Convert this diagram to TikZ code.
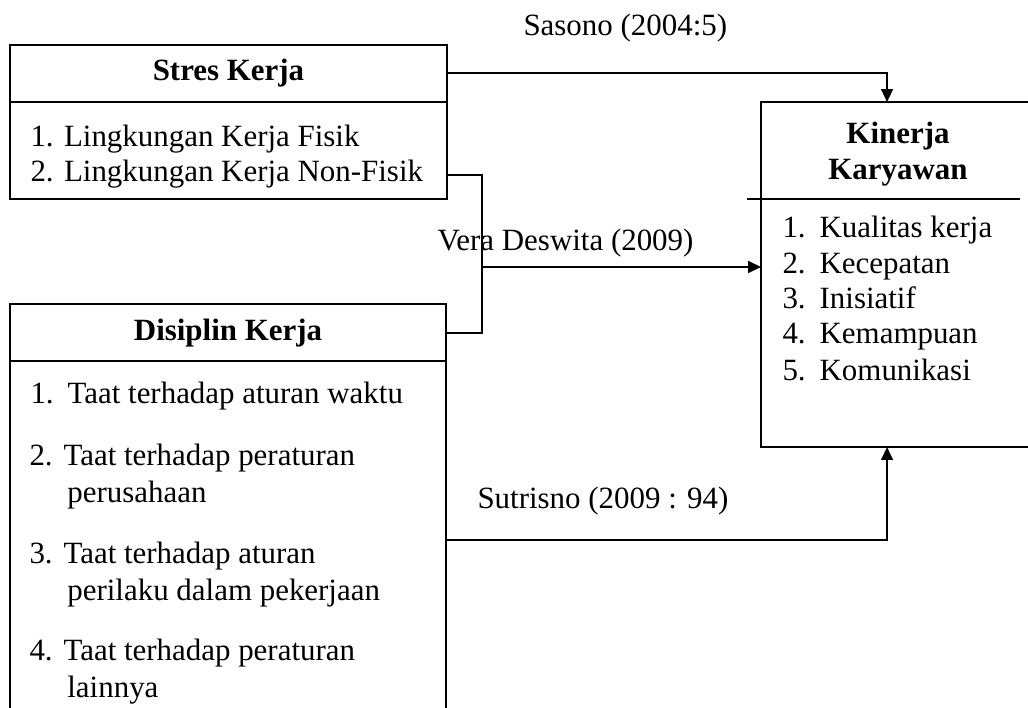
\documentclass[tikz,border=0pt]{standalone}
\usepackage{fontspec}
\setmainfont{Liberation Serif}
\usetikzlibrary{positioning,arrows.meta}
\newcommand\pxl{0.388pt}

\begin{document}
\begin{tikzpicture}
 [x=\pxl, y=-\pxl,
% Box style
    box/.style={rectangle,draw,line width=0.7pt,inner sep=0pt,outer sep=0pt,
        anchor=north west},
    divider/.style={line width=0.7pt},
% Text style
    title/.style={font=\fontsize{12}{14}\selectfont\bfseries,align=center,
        inner sep=0pt},
    item/.style={font=\fontsize{12}{14}\selectfont,align=left,
        anchor=base west,inner sep=0pt},
    source/.style={font=\fontsize{12}{14}\selectfont,anchor=base west,
        inner sep=0pt},
% Connector style
    link/.style={line width=0.7pt},
    arrow/.style={link,-{Triangle[length=5pt,width=4.6pt]}}
    ]
 \useasboundingbox (0,0) rectangle (1028,707);
%% Draw boxes
 \node (stres)    [box, minimum width=169.6pt, minimum height=59.8pt] at (10,45) {};
 \node (disiplin) [box, minimum width=169.2pt, minimum height=177pt]  at (10,304) {};
 \node (kinerja)  [box, minimum width=116.4pt, minimum height=133.9pt] at (761,102) {};
 \draw [divider] (stres.north west) ++(0,57) -- ++(437,0);
 \draw [divider] (disiplin.north west) ++(0,57) -- ++(436,0);
 \draw [divider] (kinerja.north west) ++(-14,97) -- ++(273,0);
%% Titles and items (two-line items sit on their last line)
 \node (stitle) [title] at (228.5,73)  {Stres Kerja};
 \node (s1) [item] at (30,147) {1. Lingkungan Kerja Fisik};
 \node (s2) [item] at (30,182) {2. Lingkungan Kerja Non-Fisik};
 \node (dtitle) [title] at (228,333) {Disiplin Kerja};
 \node (d1) [item] at (30,403) {\makebox[14.4pt][l]{1.}Taat terhadap aturan waktu};
 \node (d2) [item] at (29,502) {\makebox[13.2pt][l]{2.}Taat terhadap peraturan\\
     \hspace*{14.7pt}perusahaan};
 \node (d3) [item] at (29,600) {\makebox[13.2pt][l]{3.}Taat terhadap aturan\\
     \hspace*{14.7pt}perilaku dalam pekerjaan};
 \node (d4) [item] at (29,697) {\makebox[13.2pt][l]{4.}Taat terhadap peraturan\\
     \hspace*{14.7pt}lainnya};
 \node (ktitle) [title] at (898,154) {Kinerja\\Karyawan};
 \node (k1) [item] at (782,238) {\makebox[14.4pt][l]{1.}Kualitas kerja};
 \node (k2) [item] at (782,273) {\makebox[14.4pt][l]{2.}Kecepatan};
 \node (k3) [item] at (782,308) {\makebox[14.4pt][l]{3.}Inisiatif};
 \node (k4) [item] at (782,343) {\makebox[14.4pt][l]{4.}Kemampuan};
 \node (k5) [item] at (782,380) {\makebox[14.4pt][l]{5.}Komunikasi};
%% Connectors and sources
 \coordinate (vera) at (482,267);
 \draw [arrow] (stitle -| stres.east) -| ([xshift=48.9pt]kinerja.north west);
 \draw [link] (s2 -| stres.east) -| (vera) |- (dtitle -| disiplin.east);
 \draw [arrow] (vera) -- (vera -| kinerja.west);
 \draw [arrow] (disiplin.east |- 0,540) -| ([xshift=48.9pt]kinerja.south west);
 \node (sasono)   [source] at (523,36)  {Sasono (2004:5)};
 \node (deswita)  [source] at (437,250) {Vera Deswita (2009)};
 \node (sutrisno) [source] at (477,508) {Sutrisno (2009 : 94)};
\end{tikzpicture}
\end{document}
